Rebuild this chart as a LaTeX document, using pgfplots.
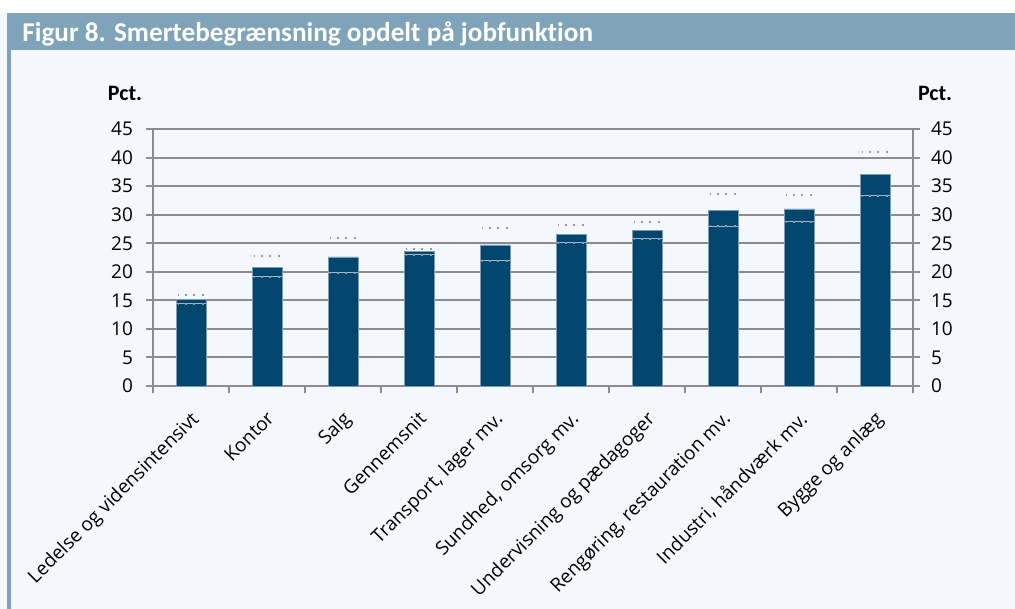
\documentclass[border=0pt]{standalone}
\usepackage{fontspec}
\setmainfont{Open Sans}
\newfontfamily\titlefont[Ligatures=NoCommon]{Carlito}
\usepackage{pgfplots}
\usepackage{pgfplotstable}
\pgfplotsset{compat=1.18}

\definecolor{bg}{HTML}{F4F8FC}
\definecolor{band}{HTML}{7FA3B8}
\definecolor{bar}{HTML}{00466E}
\definecolor{baredge}{HTML}{7C9CB5}
\definecolor{gridc}{HTML}{8C8C8C}
\definecolor{dotc}{HTML}{9A9A9A}
\definecolor{ciline}{HTML}{9DB8CC}

% value, lower and upper interval
\pgfplotstableread{
idx val lo hi
0 15.2 14.4 15.9
1 20.7 19.1 22.8
2 22.6 19.8 25.9
3 23.5 23.0 24.0
4 24.7 21.9 27.7
5 26.6 25.1 28.2
6 27.2 25.8 28.7
7 30.7 28.0 33.7
8 31.0 28.8 33.4
9 37.1 33.3 40.9
}\smerte

\begin{document}
\begin{tikzpicture}[x=0.5pt,y=0.5pt]
\useasboundingbox (0,0) rectangle (1015,609);
% frame
\fill[bg] (0,0) rectangle (1015,596);
\fill[white] (0,596) rectangle (1015,609);
\fill[band] (7,559) rectangle (1015,596);
\fill[band] (7,0) rectangle (11,559);
\node[anchor=base west, inner sep=0pt, text=white, font=\titlefont\bfseries\fontsize{13.6}{15}\selectfont]
  at (22,567.5) {Figur 8. Smertebegrænsning opdelt på jobfunktion};
\node[anchor=base, inner sep=0pt, font=\titlefont\bfseries\fontsize{11}{13}\selectfont] at (125,508) {Pct.};
\node[anchor=base, inner sep=0pt, font=\titlefont\bfseries\fontsize{11}{13}\selectfont] at (935,508) {Pct.};

\begin{axis}[
  at={(95.5pt,111.5pt)}, anchor=origin,
  scale only axis, width=380pt, height=128.5pt,
  xmin=-0.5, xmax=9.5, ymin=0, ymax=45,
  axis x line*=bottom, axis y line*=left,
  axis line style={gridc, line width=1.2pt},
  tick align=outside,
  xtick={0,...,9},
  xticklabels={Ledelse og vidensintensivt, Kontor, Salg, Gennemsnit,
    {Transport, lager mv.}, {Sundhed, omsorg mv.}, Undervisning og pædagoger,
    {Rengøring, restauration mv.}, {Industri, håndværk mv.}, Bygge og anlæg},
  major x tick style={draw=none},
  minor xtick={-0.5,0.5,...,9.5},
  minor x tick style={gridc, line width=1pt},
  minor tick length=3.5pt,
  xticklabel style={rotate=45, anchor=north east, xshift=-3pt, yshift=-2pt,
    font=\fontsize{9.5}{11}\selectfont},
  ytick distance=5,
  major y tick style={gridc, line width=1pt},
  major tick length=3.5pt,
  yticklabel style={font=\fontsize{9.5}{11}\selectfont, xshift=-3pt},
  /pgf/number format/assume math mode=true,
  ymajorgrids, major grid style={gridc, line width=1pt},
  clip=false,
]
\addplot[ybar, bar width=15pt, fill=bar, draw=baredge, line width=0.4pt]
  table[x=idx, y=val] {\smerte};
\addplot[only marks, mark=-, mark size=7.5pt,
  mark options={draw=ciline, line width=0.5pt}]
  table[x=idx, y=lo] {\smerte};
\addplot[only marks, mark=-, mark size=6.5pt,
  mark options={draw=dotc, line width=1pt, dash pattern=on 1pt off 3.3pt}]
  table[x=idx, y=lo] {\smerte};
\addplot[only marks, mark=-, mark size=6.5pt,
  mark options={draw=dotc, line width=1pt, dash pattern=on 1pt off 3.3pt}]
  table[x=idx, y=hi] {\smerte};
\end{axis}

\begin{axis}[
  at={(95.5pt,111.5pt)}, anchor=origin,
  scale only axis, width=380pt, height=128.5pt,
  xmin=-0.5, xmax=9.5, ymin=0, ymax=45,
  hide x axis, axis y line*=right,
  axis line style={gridc, line width=1.2pt},
  tick align=outside,
  ytick distance=5,
  major y tick style={gridc, line width=1pt},
  major tick length=3.5pt,
  yticklabel style={font=\fontsize{9.5}{11}\selectfont, xshift=2pt},
  /pgf/number format/assume math mode=true,
]
\end{axis}
\end{tikzpicture}
\end{document}
